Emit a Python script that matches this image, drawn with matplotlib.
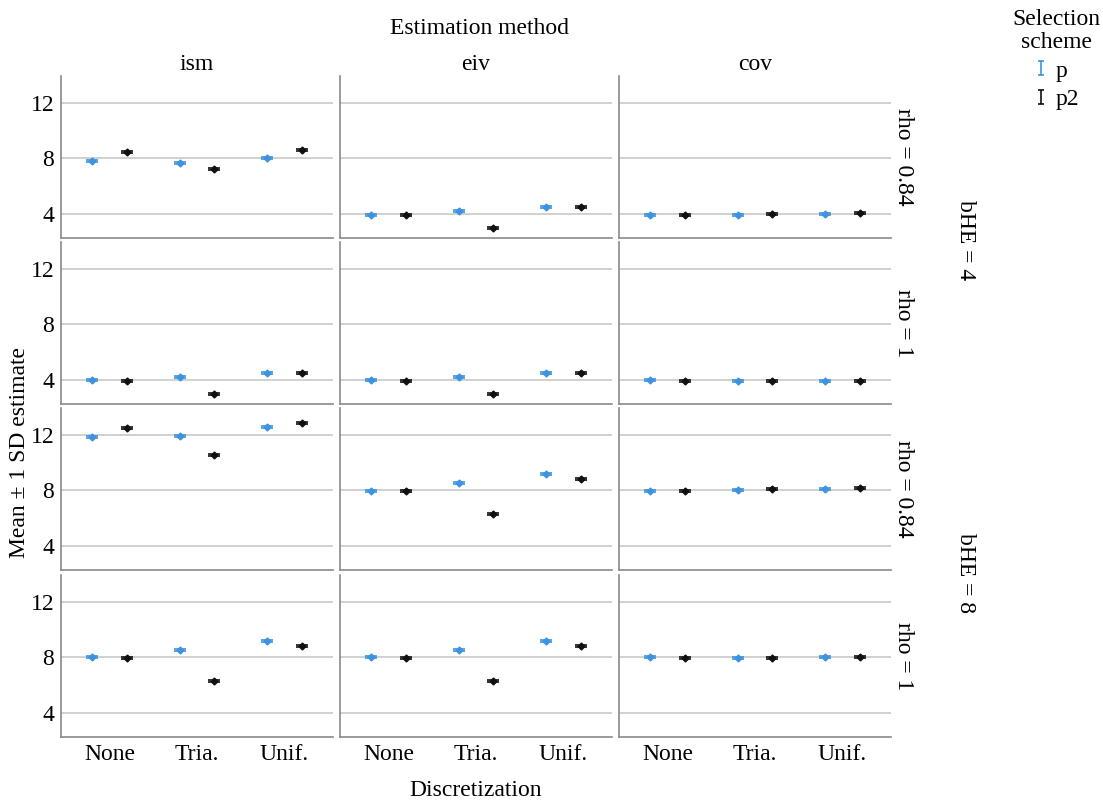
import matplotlib
matplotlib.use("Agg")
import matplotlib.pyplot as plt
from matplotlib.lines import Line2D
from matplotlib.path import Path
import numpy as np

plt.rcParams['font.family'] = ['Liberation Serif', 'DejaVu Serif']

# categories
methods = ["ism", "eiv", "cov"]
discretization = ["None", "Tria.", "Unif."]
row_labels = ["rho = 0.84", "rho = 1", "rho = 0.84", "rho = 1"]
bhe_labels = ["bHE = 4", "bHE = 8"]
schemes = ["p", "p2"]
colors = {"p": "#3d93e0", "p2": "#111111"}

# means: one list per panel (None, Tria., Unif.)
# bHE = 4, rho = 0.84
p_4_084 = {"ism": [7.84, 7.67, 8.02], "eiv": [3.95, 4.21, 4.52], "cov": [3.97, 3.98, 4.05]}
p2_4_084 = {"ism": [8.48, 7.24, 8.57], "eiv": [3.98, 3.05, 4.50], "cov": [3.97, 4.00, 4.08]}
# bHE = 4, rho = 1
p_4_1 = {"ism": [4.00, 4.25, 4.55], "eiv": [4.00, 4.25, 4.55], "cov": [4.02, 3.98, 3.98]}
p2_4_1 = {"ism": [3.98, 3.05, 4.50], "eiv": [3.98, 3.05, 4.50], "cov": [3.97, 3.98, 3.96]}
# bHE = 8, rho = 0.84
p_8_084 = {"ism": [11.85, 11.90, 12.55], "eiv": [7.97, 8.50, 9.20], "cov": [7.97, 8.02, 8.10]}
p2_8_084 = {"ism": [12.50, 10.55, 12.85], "eiv": [7.98, 6.30, 8.85], "cov": [7.97, 8.08, 8.20]}
# bHE = 8, rho = 1
p_8_1 = {"ism": [8.02, 8.55, 9.20], "eiv": [8.02, 8.55, 9.20], "cov": [8.00, 7.97, 8.00]}
p2_8_1 = {"ism": [7.98, 6.30, 8.85], "eiv": [7.98, 6.30, 8.85], "cov": [7.98, 7.98, 8.00]}

rows = [(p_4_084, p2_4_084), (p_4_1, p2_4_1), (p_8_084, p2_8_084), (p_8_1, p2_8_1)]
sd = 0.07

W, H = 1103, 801
fig = plt.figure(figsize=(W / 100, H / 100), dpi=100)

col_x = [61, 340, 619]
row_y = [76, 242, 408, 575]
pw, ph = 272, 162
fs = 17

def px_axes(x, y, w, h):
    return fig.add_axes([x / W, 1 - (y + h) / H, w / W, h / H])

xs = np.arange(len(discretization))
for r, (pdat, p2dat) in enumerate(rows):
    for c, m in enumerate(methods):
        ax = px_axes(col_x[c], row_y[r], pw, ph)
        for off, s, dat in [(-0.2, "p", pdat), (0.2, "p2", p2dat)]:
            ax.errorbar(xs + off, dat[m], yerr=sd, fmt="D", ms=3.5,
                        color=colors[s], ecolor=colors[s], elinewidth=1,
                        capsize=4, capthick=1.2, zorder=3)
        ax.set_xlim(-0.56, 2.56)
        ax.set_ylim(2.3, 13.9)
        ax.set_yticks([4, 8, 12])
        ax.yaxis.grid(True, color="#c8c8c8", lw=1.2)
        ax.set_axisbelow(True)
        for sp in ["top", "right"]:
            ax.spines[sp].set_visible(False)
        for sp in ["left", "bottom"]:
            ax.spines[sp].set_color("#8a8a8a")
            ax.spines[sp].set_linewidth(1.2)
        ax.tick_params(length=0, labelsize=fs, pad=5)
        ax.set_xticks(xs)
        if r == 3:
            ax.set_xticklabels(discretization)
        else:
            ax.set_xticklabels([])
        if c != 0:
            ax.set_yticklabels([])
        if r == 0:
            ax.set_title(m, fontsize=fs, pad=4)
        if c == 2:
            ax.text(1.045, 0.5, row_labels[r], transform=ax.transAxes, rotation=-90,
                    ha="center", va="center", fontsize=fs)

fig.text(480 / W, 1 - 28 / H, "Estimation method", ha="center", va="center", fontsize=fs)
fig.text(476 / W, 1 - 790 / H, "Discretization", ha="center", va="center", fontsize=fs)
fig.text(20 / W, 1 - 452 / H, "Mean \u00b1 1 SD estimate", rotation=90,
         ha="center", va="center", fontsize=fs)
fig.text(966 / W, 1 - 240 / H, bhe_labels[0], rotation=-90, ha="center", va="center", fontsize=fs)
fig.text(966 / W, 1 - 573 / H, bhe_labels[1], rotation=-90, ha="center", va="center", fontsize=fs)

# legend: I-beam error bar icons
ibeam = Path([(-0.5, 1), (0.5, 1), (0, 1), (0, -1), (-0.5, -1), (0.5, -1)],
             [Path.MOVETO, Path.LINETO, Path.MOVETO, Path.LINETO, Path.MOVETO, Path.LINETO])
handles = [Line2D([], [], linestyle="none", marker=ibeam, markersize=10,
                  markerfacecolor="none", markeredgecolor=colors[s], markeredgewidth=1.2)
           for s in schemes]
leg = fig.legend(handles, schemes, title="Selection\nscheme", loc="upper right",
                 bbox_to_anchor=(1110 / W, 1.0), frameon=False, fontsize=fs,
                 title_fontsize=fs, handlelength=0.6, handletextpad=0.3,
                 labelspacing=0.3, borderpad=0.1, borderaxespad=0.3)
leg.get_title().set_multialignment("center")
leg.get_title().set_linespacing(1.1)

fig.savefig("out.png", dpi=100)
